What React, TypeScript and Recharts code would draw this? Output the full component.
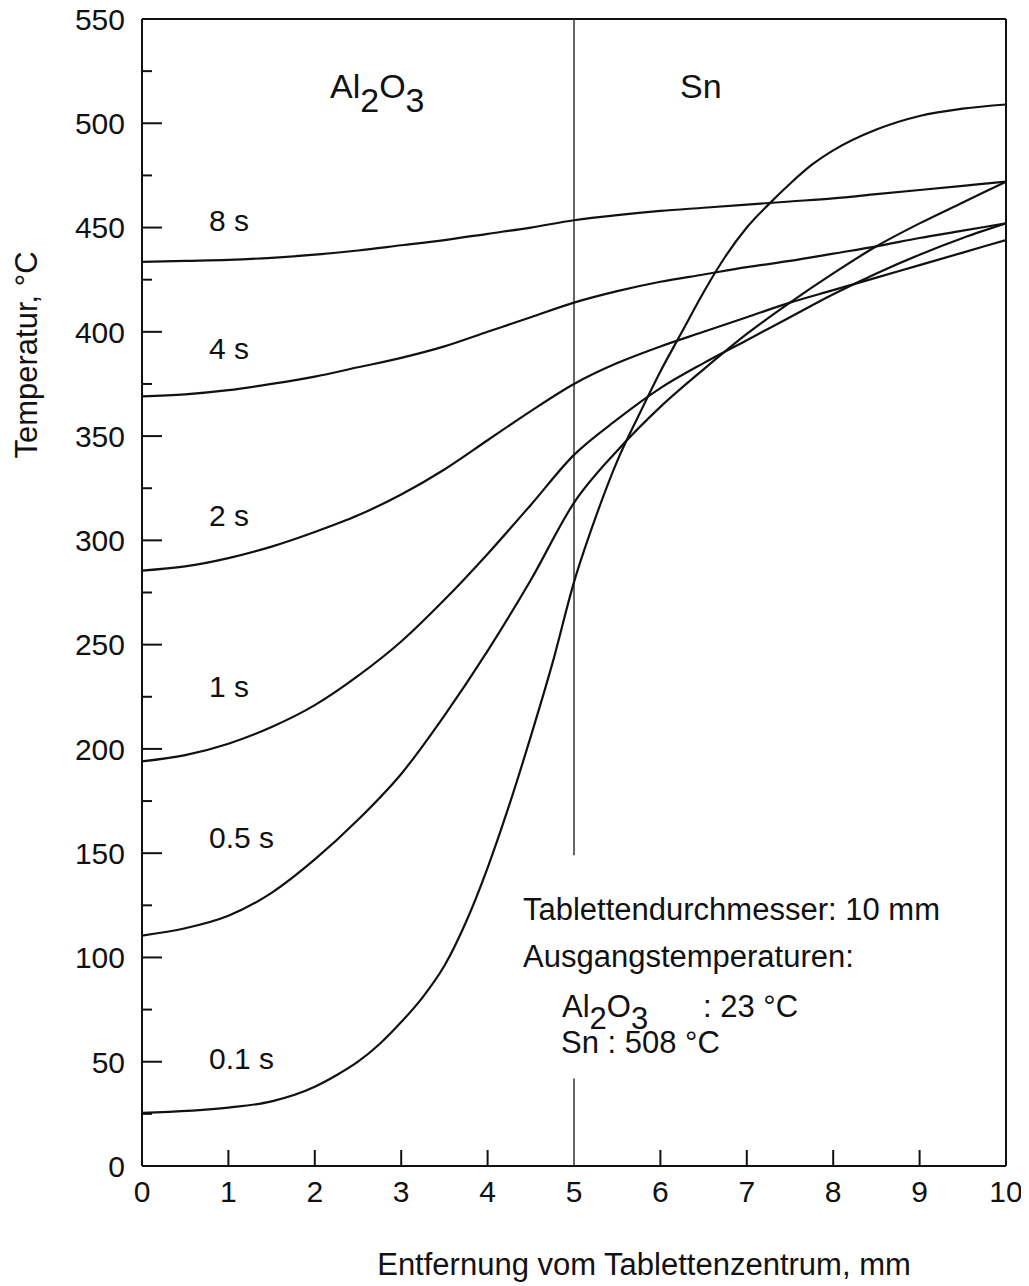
import React from 'react';
import { LineChart, Line, XAxis, YAxis, ReferenceLine, Customized } from 'recharts';

// distance from pellet centre, mm
const X_GRID = [0, 0.5, 1, 1.5, 2, 2.5, 3, 3.5, 4, 4.5, 5, 5.5, 6, 6.5, 7, 7.5, 8, 8.5, 9, 9.5, 10];
const X_01 = [0, 1, 1.5, 2, 2.25, 2.5, 2.75, 3, 3.25, 3.5, 3.75, 4, 4.25, 4.5, 4.75, 5, 5.25, 5.5, 5.75, 6, 6.25, 6.5, 6.75, 7, 7.25, 7.5, 7.75, 8, 8.5, 9, 9.5, 10];

// temperatures, °C
const T_01 = [25.5, 28, 31, 38, 43.5, 50, 58.5, 69, 81, 96, 117, 143, 173, 206, 241, 280, 311, 338, 360, 381, 400, 419, 436, 450, 461, 471, 480, 487, 497, 503.5, 507, 509];
const T_05 = [110.5, 114, 120, 131, 147, 166, 188, 216, 247, 281, 318, 343, 364, 382, 399, 414, 428, 441, 452, 462, 472];
const T_1 = [194, 197, 202.5, 210.5, 221, 235, 251.5, 271.5, 293.5, 317, 341, 358, 373, 385, 396, 407, 418, 428, 437, 445, 452];
const T_2 = [285.5, 287.5, 291.5, 297, 304, 312, 322, 334, 348, 362, 375, 385, 393, 400, 407, 414, 420, 426, 432, 438, 444];
const T_4 = [369, 370, 372, 375, 378.5, 383, 387.5, 393, 400, 407, 414, 419.5, 424, 427.5, 431, 434, 437.5, 441, 445, 448.5, 452];
const T_8 = [433.5, 434, 434.5, 435.5, 437, 439, 441.5, 444, 447, 450, 453.5, 456, 458, 459.5, 461, 462.5, 464, 466, 468, 470, 472];

const X_TICKS = [0, 1, 2, 3, 4, 5, 6, 7, 8, 9, 10];
const Y_TICKS = [0, 25, 50, 75, 100, 125, 150, 175, 200, 225, 250, 275, 300, 325, 350, 375, 400, 425, 450, 475, 500, 525, 550];

const zip = (xs: number[], ts: number[]) => xs.map((x, i) => ({ x, t: ts[i] }));

const SERIES = [
  { name: '0.1 s', data: zip(X_01, T_01) },
  { name: '0.5 s', data: zip(X_GRID, T_05) },
  { name: '1 s', data: zip(X_GRID, T_1) },
  { name: '2 s', data: zip(X_GRID, T_2) },
  { name: '4 s', data: zip(X_GRID, T_4) },
  { name: '8 s', data: zip(X_GRID, T_8) },
];

const FONT = '"Liberation Sans", Arial, Helvetica, sans-serif';
const INK = '#111';

const YTick = (props: any) => {
  const { x, y, payload } = props;
  const v = payload.value as number;
  const major = v % 50 === 0;
  const edge = v === 0 || v === 550;
  return (
    <g>
      {!edge && (
        <line x1={x} x2={x + (major ? 20 : 10)} y1={y} y2={y} stroke={INK} strokeWidth={2} />
      )}
      {major && (
        <text x={x - 17} y={y} dy="0.36em" textAnchor="end" fontSize={30} fill={INK} fontFamily={FONT}>
          {v}
        </text>
      )}
    </g>
  );
};

const XTick = (props: any) => {
  const { x, y, payload } = props;
  const v = payload.value as number;
  const edge = v === 0 || v === 10 || v === 5;
  return (
    <g>
      {!edge && <line x1={x} x2={x} y1={y} y2={y - 16} stroke={INK} strokeWidth={2} />}
      <text x={x} y={y + 36} textAnchor="middle" fontSize={30} fill={INK} fontFamily={FONT}>
        {v}
      </text>
    </g>
  );
};

const Annotations = () => (
  <g fontFamily={FONT} fill={INK}>
    <text x={330} y={98} fontSize={34}>
      <tspan>Al</tspan>
      <tspan dy={14}>2</tspan>
      <tspan dy={-14}>O</tspan>
      <tspan dy={14}>3</tspan>
    </text>
    <text x={680} y={98} fontSize={34}>Sn</text>

    <text x={209} y={231} fontSize={30}>8 s</text>
    <text x={209} y={359} fontSize={30}>4 s</text>
    <text x={209} y={526} fontSize={30}>2 s</text>
    <text x={209} y={697} fontSize={30}>1 s</text>
    <text x={209} y={848} fontSize={30}>0.5 s</text>
    <text x={209} y={1069} fontSize={30}>0.1 s</text>

    <text x={523} y={920} fontSize={31}>Tablettendurchmesser: 10 mm</text>
    <text x={523} y={967} fontSize={31}>Ausgangstemperaturen:</text>
    <text x={562} y={1017} fontSize={31}>
      <tspan>Al</tspan>
      <tspan dy={12}>2</tspan>
      <tspan dy={-12}>O</tspan>
      <tspan dy={12}>3</tspan>
    </text>
    <text x={703} y={1017} fontSize={31}>: 23 °C</text>
    <text x={561} y={1053} fontSize={31}>Sn : 508 °C</text>

    <text x={644} y={1275} fontSize={31} textAnchor="middle">Entfernung vom Tablettenzentrum, mm</text>
    <text x={37} y={355} fontSize={31} textAnchor="middle" transform="rotate(-90 37 355)">Temperatur, °C</text>
  </g>
);

export default function App() {
  return (
    <div style={{ width: 1029, height: 1286, margin: '-8px 0 0 -8px', background: '#fff' }}>
      <LineChart width={1029} height={1286} margin={{ top: 19, right: 23, bottom: 0, left: 0 }}>
        <XAxis
          dataKey="x"
          type="number"
          domain={[0, 10]}
          ticks={X_TICKS}
          interval={0}
          height={120}
          tickSize={0}
          tickMargin={0}
          tickLine={false}
          tick={<XTick />}
          axisLine={{ stroke: INK, strokeWidth: 2 }}
          allowDataOverflow
        />
        <YAxis
          type="number"
          domain={[0, 550]}
          ticks={Y_TICKS}
          interval={0}
          width={142}
          tickSize={0}
          tickMargin={0}
          tickLine={false}
          tick={<YTick />}
          axisLine={{ stroke: INK, strokeWidth: 2 }}
          allowDataOverflow
        />
        <ReferenceLine y={550} stroke={INK} strokeWidth={2} />
        <ReferenceLine x={10} stroke={INK} strokeWidth={2} />
        <ReferenceLine segment={[{ x: 5, y: 550 }, { x: 5, y: 149 }]} stroke="#333" strokeWidth={1.5} />
        <ReferenceLine segment={[{ x: 5, y: 42 }, { x: 5, y: 0 }]} stroke="#333" strokeWidth={1.5} />
        {SERIES.map((s) => (
          <Line
            key={s.name}
            name={s.name}
            data={s.data}
            dataKey="t"
            type="monotone"
            stroke={INK}
            strokeWidth={2.2}
            dot={false}
            activeDot={false}
            isAnimationActive={false}
          />
        ))}
        <Customized component={Annotations} />
      </LineChart>
    </div>
  );
}
